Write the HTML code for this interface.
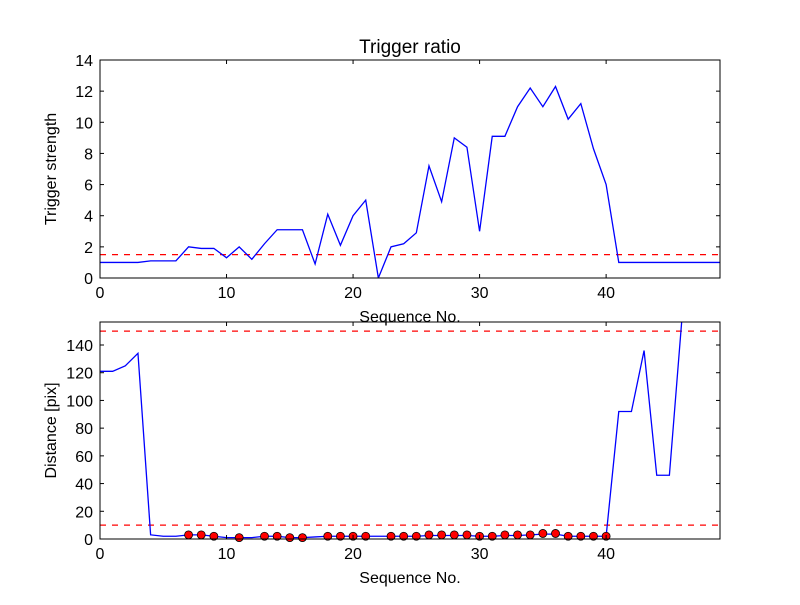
<!DOCTYPE html>
<html><head><meta charset="utf-8"><style>body{margin:0;background:#fff}svg text{font-family:"Liberation Sans","DejaVu Sans",sans-serif;fill:#000}</style></head>
<body>
<svg id="c" width="800" height="600"></svg>
<script>
const topY=[1,1,1,1,1.1,1.1,1.1,2.0,1.9,1.9,1.3,2.0,1.2,2.2,3.1,3.1,3.1,0.9,4.1,2.1,4.0,5.0,0,2.0,2.2,2.9,7.2,4.9,9.0,8.4,3.0,9.1,9.1,11.0,12.2,11.0,12.3,10.2,11.2,8.3,6.0,1,1,1,1,1,1,1,1,1];
const topThreshold=1.5;
const botY=[121,121,125,134,3,2,2,3,3,2,1,1,1,2,2,1,1,1.5,2,2,2,2,2,2,2,2,2.5,2.5,2.5,2.5,2,2,2.5,2.5,3,3.5,3.5,2,2,2,2,92,92,136,46,46,160,200,200,200];
const markX=[7,8,9,11,13,14,15,16,18,19,20,21,23,24,25,26,27,28,29,30,31,32,33,34,35,36,37,38,39,40];
const markY=[3,3,2,1,2,2,1,1,2,2,2,2,2,2,2,3,3,3,3,2,2,3,3,3,4,4,2,2,2,2];
const botThresholds=[10,150];
const xTicks=[0,10,20,30,40];
const topTicks=[0,2,4,6,8,10,12,14];
const botTicks=[0,20,40,60,80,100,120,140];
const NS='http://www.w3.org/2000/svg';
const svg=document.getElementById('c');
function mk(t,a,p){const e=document.createElementNS(NS,t);for(const k in a)e.setAttribute(k,a[k]);(p||svg).appendChild(e);return e;}
function panel(L,R,T,B,xmax,ymax,name){
 const xs=v=>L+(R-L)*v/xmax, ys=v=>B-(B-T)*v/ymax;
 const g=mk('g',{});
 const cid='clip'+name;const cp=mk('clipPath',{id:cid},g);mk('rect',{x:L,y:T,width:R-L,height:B-T},cp);
 const plot=mk('g',{'clip-path':'url(#'+cid+')'},g);
 return {xs,ys,g,plot,L,R,T,B};
}
function axes(P,xt,yt,ylabel,title){
 const {xs,ys,g,L,R,T,B}=P;
 xt.forEach(v=>{const x=xs(v);
  const t1=mk('line',{x1:x,x2:x,y1:B,y2:B-4,stroke:'#000'},g);
  mk('line',{x1:x,x2:x,y1:T,y2:T+4,stroke:'#000'},g);
  const l=mk('text',{x:x,y:B+20,'text-anchor':'middle','font-size':16},g);l.textContent=v;});
 yt.forEach(v=>{const y=ys(v);
  const t1=mk('line',{x1:L,x2:L+4,y1:y,y2:y,stroke:'#000'},g);
  mk('line',{x1:R,x2:R-4,y1:y,y2:y,stroke:'#000'},g);
  const l=mk('text',{x:L-7,y:y+6,'text-anchor':'end','font-size':16},g);l.textContent=v;});
 const fr=mk('rect',{x:L,y:T,width:R-L,height:B-T,fill:'none',stroke:'#000','stroke-width':1},g);
 const xl=mk('text',{x:(L+R)/2,y:B+44,'text-anchor':'middle','font-size':16},g);xl.textContent='Sequence No.';
 const cy=(T+B)/2;const yl=mk('text',{x:0,y:0,'text-anchor':'middle','font-size':16,transform:`translate(${L-44},${cy}) rotate(-90)`},g);yl.textContent=ylabel;
 if(title){const tt=mk('text',{x:(L+R)/2,y:T-7,'text-anchor':'middle','font-size':19},g);tt.textContent=title;}
}
// top
const P1=panel(100,720,60,278,49,14,'top-panel');
const h1=mk('line',{x1:100,x2:720,y1:P1.ys(topThreshold),y2:P1.ys(topThreshold),stroke:'red','stroke-width':1.2,'stroke-dasharray':'6,6'},P1.plot);

const l1=mk('polyline',{points:topY.map((v,i)=>P1.xs(i)+','+P1.ys(v)).join(' '),fill:'none',stroke:'blue','stroke-width':1.3},P1.plot);

axes(P1,xTicks,topTicks,'Trigger strength','Trigger ratio');
// bottom
const P2=panel(100,720,322,539,49,156.6,'bottom-panel');
botThresholds.forEach(t=>{const h=mk('line',{x1:100,x2:720,y1:P2.ys(t),y2:P2.ys(t),stroke:'red','stroke-width':1.2,'stroke-dasharray':'6,6'},P2.plot);
});
const l2=mk('polyline',{points:botY.map((v,i)=>P2.xs(i)+','+P2.ys(v)).join(' '),fill:'none',stroke:'blue','stroke-width':1.3},P2.plot);

markX.forEach((x,i)=>{const c=mk('circle',{cx:P2.xs(x),cy:P2.ys(markY[i]),r:4,fill:'red',stroke:'#000','stroke-width':0.8},P2.g);
});
axes(P2,xTicks,botTicks,'Distance [pix]',null);
</script>
</body></html>
